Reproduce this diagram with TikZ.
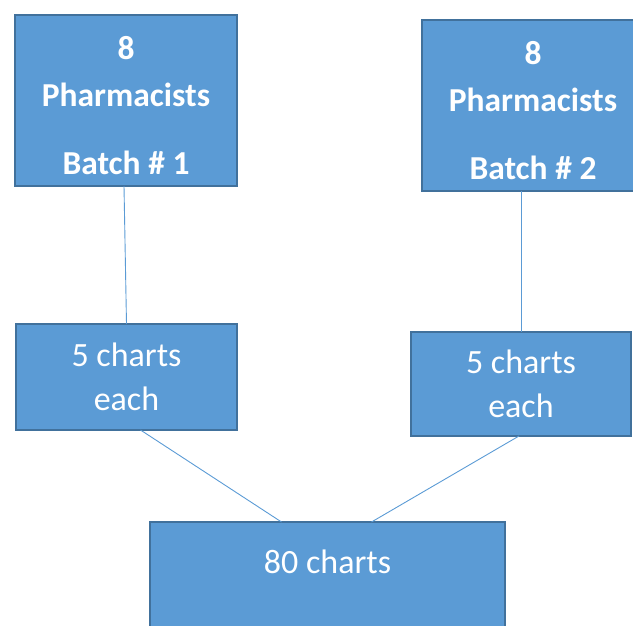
\documentclass[tikz,border=0pt]{standalone}
\usepackage{fontspec}
\setmainfont{Carlito}
\usetikzlibrary{
  calc
}
\definecolor{boxfill}{HTML}{5B9BD5}
\definecolor{boxedge}{HTML}{41719C}
\tikzset{
  % Shared values that are assigned to different keys in the styles below.
  globals/box line width/.initial=2.5pt,
  globals/wire line width/.initial=0.9pt,
%
  % For all boxes.
  box/.style={
    draw=boxedge,
    fill=boxfill,
    line width=\pgfkeysvalueof{/tikz/globals/box line width},
    text=white,
    align=center,
    inner sep=0pt,
    outer sep=0pt,
    font=\fontsize{34}{44}\selectfont},
%
  % For the two pharmacist batches.
  batch box/.style={
    box,
    font=\fontsize{33.5}{44}\selectfont\bfseries,
    minimum width=222pt,
    minimum height=171pt},
%
  % For the charts per pharmacist.
  chart box/.style={
    box,
    minimum width=221pt,
    minimum height=106pt},
%
  % For the thin connectors.
  wire/.style={
    draw=boxfill,
    line width=\pgfkeysvalueof{/tikz/globals/wire line width}}
}

\begin{document}
\begin{tikzpicture}[x=1pt,y=-1pt]
  \useasboundingbox (0,0) rectangle (633,626);

  \node[batch box] (batch1) at (126,100.5)
    {\rule{0pt}{33pt}8\\[3pt]Pharmacists\\[24pt]Batch \# 1};
  \node[batch box] (batch2) at (533,105.5)
    {\rule{0pt}{33pt}8\\[3pt]Pharmacists\\[24pt]Batch \# 2};

  \node[chart box] (charts1) at (126.5,377) {5 charts\\each};
  \node[chart box,
        minimum width=220pt,
        minimum height=104pt] (charts2) at (521,384) {5 charts\\each};

  \node[box,
        minimum width=355pt,
        minimum height=126pt,
        text depth=46pt,
        anchor=north] (total) at (327.5,522) {80 charts};

  \draw[wire] ([xshift=-2pt]batch1.south) -- (charts1.north);
  \draw[wire] (charts2.north |- batch2.south) -- (charts2.north);
  \draw[wire] ([xshift=14pt]charts1.south) -- ([xshift=-46pt]total.north);
  \draw[wire] ([xshift=-2pt]charts2.south) -- ([xshift=44pt]total.north);
\end{tikzpicture}
\end{document}
